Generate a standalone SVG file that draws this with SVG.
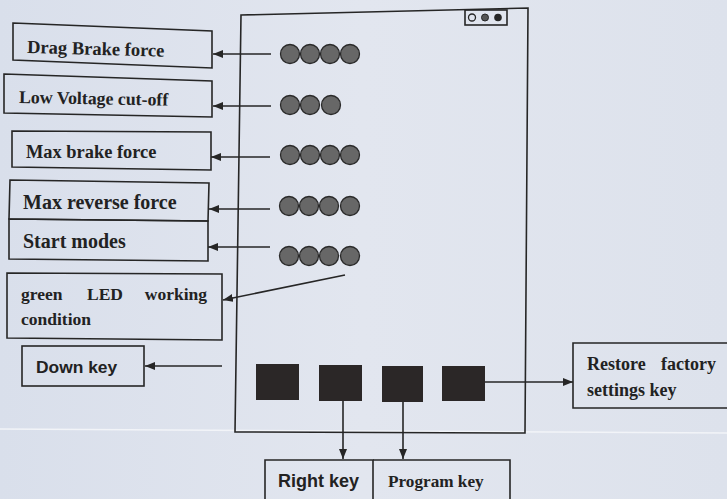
<svg xmlns="http://www.w3.org/2000/svg" width="727" height="499" viewBox="0 0 727 499">
<defs>
<style>
.bx{fill:none;stroke:#262626;stroke-width:1.6}
.ln{fill:none;stroke:#262626;stroke-width:1.6}
.ser{font-family:"Liberation Serif","Times New Roman",serif;font-weight:bold;fill:#222}
.san{font-family:"Liberation Sans",Arial,sans-serif;font-weight:bold;fill:#222}
.dot{fill:#676767;stroke:#2a2a2a;stroke-width:1.3}
.key{fill:#2b2727}
</style>
<marker id="ah" viewBox="0 0 10 8" refX="10" refY="4" markerWidth="10" markerHeight="8" markerUnits="userSpaceOnUse" orient="auto">
<path d="M0,0 L10,4 L0,8 Z" fill="#262626"/>
</marker>
<linearGradient id="bg" x1="0" y1="0" x2="1" y2="0">
<stop offset="0" stop-color="#d9dfeb"/>
<stop offset="0.5" stop-color="#e2e6ef"/>
<stop offset="1" stop-color="#dde2ec"/>
</linearGradient>
</defs>
<rect width="727" height="499" fill="url(#bg)"/>
<path d="M0,429 L727,433" stroke="#f2f4f8" stroke-width="1.5" fill="none"/>

<g id="panel">
<polygon class="bx" points="241,15 528,8 525,433 235,432"/>
<rect class="bx" x="465" y="10" width="42" height="15"/>
<circle cx="472" cy="17.5" r="3.5" fill="none" stroke="#262626" stroke-width="1.3"/>
<circle cx="485" cy="17.5" r="3.5" fill="#555" stroke="#262626" stroke-width="1"/>
<circle cx="498" cy="17.5" r="3.8" fill="#262626"/>
</g>

<g id="leds">
<circle class="dot" cx="290" cy="54" r="9.5"/><circle class="dot" cx="310" cy="54" r="9.5"/><circle class="dot" cx="330" cy="54" r="9.5"/><circle class="dot" cx="350" cy="54" r="9.5"/>
<circle class="dot" cx="290" cy="105" r="9.5"/><circle class="dot" cx="310" cy="105" r="9.5"/><circle class="dot" cx="331" cy="105" r="9.5"/>
<circle class="dot" cx="290" cy="155" r="9.5"/><circle class="dot" cx="310" cy="155" r="9.5"/><circle class="dot" cx="330" cy="155" r="9.5"/><circle class="dot" cx="350" cy="155" r="9.5"/>
<circle class="dot" cx="289" cy="206" r="9.5"/><circle class="dot" cx="309" cy="206" r="9.5"/><circle class="dot" cx="329" cy="206" r="9.5"/><circle class="dot" cx="350" cy="206" r="9.5"/>
<circle class="dot" cx="289" cy="256" r="9.5"/><circle class="dot" cx="309" cy="256" r="9.5"/><circle class="dot" cx="329" cy="256" r="9.5"/><circle class="dot" cx="350" cy="256" r="9.5" fill="#a9a9a9"/>
</g>

<g id="keys">
<rect class="key" x="256" y="364" width="43" height="36"/>
<rect class="key" x="319" y="365" width="43" height="36"/>
<rect class="key" x="382" y="366" width="41" height="36"/>
<rect class="key" x="442" y="366" width="43" height="35"/>
</g>

<g id="drag-brake">
<polygon class="bx" points="13,23 212,31 212,68 13,60"/>
<text class="ser" x="27" y="53" font-size="18.5" transform="rotate(1.5 27 53)">Drag Brake force</text>
</g>
<g id="low-voltage">
<polygon class="bx" points="4,74 212,81 212,117 4,113"/>
<text class="ser" x="19" y="103" font-size="17.8" transform="rotate(1 19 103)">Low Voltage cut-off</text>
</g>
<g id="max-brake">
<polygon class="bx" points="12,131 211,132 211,170 12,167"/>
<text class="ser" x="26" y="158" font-size="18.4">Max brake force</text>
</g>
<g id="max-reverse">
<polygon class="bx" points="10,180 209,183 208,221 9,219"/>
<text class="ser" x="23" y="209" font-size="20">Max reverse force</text>
</g>
<g id="start-modes">
<polygon class="bx" points="9,219 208,221 208,261 9,259"/>
<text class="ser" x="23" y="248" font-size="20">Start modes</text>
</g>
<g id="green-led">
<polygon class="bx" points="7,273 222,274 222,340 7,338"/>
<text class="ser" x="21" y="300" font-size="17.5">green</text>
<text class="ser" x="87" y="300" font-size="17.5">LED</text>
<text class="ser" x="207" y="300" font-size="17.5" text-anchor="end">working</text>
<text class="ser" x="21" y="325" font-size="17.5">condition</text>
</g>
<g id="down-key">
<rect class="bx" x="22" y="346" width="122" height="40"/>
<text class="san" x="36" y="373" font-size="17.4">Down key</text>
</g>
<g id="restore">
<polyline class="bx" points="730,343 573,343 573,408 730,408"/>
<text class="ser" x="587" y="370" font-size="18">Restore</text>
<text class="ser" x="716" y="370" font-size="18" text-anchor="end">factory</text>
<text class="ser" x="587" y="396" font-size="18">settings key</text>
</g>
<g id="right-key">
<polyline class="bx" points="265,502 265,460 373,460 373,502"/>
<text class="san" x="278" y="487" font-size="18">Right key</text>
</g>
<g id="program-key">
<polyline class="bx" points="373,460 510,460 510,502"/>
<text class="ser" x="388" y="487" font-size="17.2">Program key</text>
</g>

<g id="connectors">
<line class="ln" x1="271" y1="54" x2="213" y2="54" marker-end="url(#ah)"/>
<line class="ln" x1="271" y1="106" x2="213" y2="106" marker-end="url(#ah)"/>
<line class="ln" x1="270" y1="157" x2="211" y2="157" marker-end="url(#ah)"/>
<line class="ln" x1="270" y1="209" x2="209" y2="209" marker-end="url(#ah)"/>
<line class="ln" x1="270" y1="247" x2="208" y2="247" marker-end="url(#ah)"/>
<line class="ln" x1="345" y1="275" x2="223" y2="300" marker-end="url(#ah)"/>
<line class="ln" x1="222" y1="366" x2="145" y2="366" marker-end="url(#ah)"/>
<line class="ln" x1="343" y1="401" x2="343" y2="459" marker-end="url(#ah)"/>
<line class="ln" x1="403" y1="402" x2="403" y2="459" marker-end="url(#ah)"/>
<line class="ln" x1="485" y1="382" x2="573" y2="382" marker-end="url(#ah)"/>
</g>
</svg>
